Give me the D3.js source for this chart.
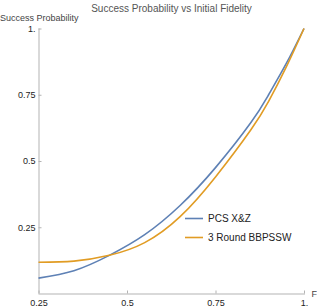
<!DOCTYPE html>
<html>
<head>
<meta charset="utf-8">
<script src="https://cdn.jsdelivr.net/npm/d3@7"></script>
<style>
  body { margin: 0; background: white; }
  text { font-family: "Liberation Sans", Arial, sans-serif; }
</style>
</head>
<body>
<div class="fidelity-plot"></div>
<script>
// values
const fidelity = [0.25, 0.35, 0.45, 0.55, 0.65, 0.75, 0.85, 0.9, 0.95, 1.0];
const pcsP = [0.058, 0.086, 0.144, 0.222, 0.332, 0.475, 0.645, 0.75, 0.868, 1.0];
const bbpP = [0.118, 0.122, 0.144, 0.192, 0.29, 0.44, 0.618, 0.725, 0.855, 1.0];

const xTicks = [0.25, 0.5, 0.75, 1.0];
const xTickLabels = ["0.25", "0.5", "0.75", "1."];
const yTicks = [0.25, 0.5, 0.75, 1.0];
const yTickLabels = ["0.25", "0.5", "0.75", "1."];

const seriesNames = ["PCS X&Z", "3 Round BBPSSW"];
const seriesColors = ["#5e81b5", "#e19c24"];

makePlot();

function makePlot() {
    const outerWidth = 317;
    const outerHeight = 308;

    const svg = d3.select('.fidelity-plot')
                .append('svg')
                .attr('width', outerWidth)
                .attr('height', outerHeight);

    const xScale = d3.scaleLinear()
                .domain([0.25, 1])
                .range([38.5, 304]);
    const yScale = d3.scaleLinear()
                .domain([0, 1])
                .range([293.5, 28.5]);

    const xAxis = d3.axisBottom(xScale)
                .tickValues(xTicks)
                .tickFormat((d, i) => xTickLabels[i])
                .tickSizeInner(-3)
                .tickSizeOuter(0)
                .tickPadding(6);
    const yAxis = d3.axisLeft(yScale)
                .tickValues(yTicks)
                .tickFormat((d, i) => yTickLabels[i])
                .tickSizeInner(-3)
                .tickSizeOuter(0)
                .tickPadding(3);

    svg.append('g')
        .attr('transform', `translate(0, ${yScale(0)})`)
        .call(xAxis)
        .call(g => g.select('.domain').attr('stroke', '#b3b3b3').attr('d', `M38.5,0.5H305`))
        .call(g => g.selectAll('.tick line').attr('stroke', '#b3b3b3'))
        .call(g => g.selectAll('.tick text').attr('fill', '#222').attr('font-size', 9));

    svg.append('g')
        .attr('transform', `translate(38.5, 0)`)
        .call(yAxis)
        .call(g => g.select('.domain').attr('stroke', '#b3b3b3').attr('d', `M0.5,${yScale(0)}V${yScale(1)}`))
        .call(g => g.selectAll('.tick line').attr('stroke', '#b3b3b3'))
        .call(g => g.selectAll('.tick text').attr('fill', '#222').attr('font-size', 9));

    svg.append('text')
        .attr('x', 311.5)
        .attr('y', 297)
        .attr('font-size', 9)
        .attr('fill', '#444')
        .text('F');

    svg.append('text')
        .attr('x', 0)
        .attr('y', 21)
        .attr('font-size', 9)
        .attr('fill', '#444')
        .text('Success Probability');

    svg.append('text')
        .attr('x', 171.5)
        .attr('y', 12)
        .attr('text-anchor', 'middle')
        .attr('font-size', 10)
        .attr('fill', '#555')
        .text('Success Probability vs Initial Fidelity');

    const line = d3.line()
                .x(d => xScale(d[0]))
                .y(d => yScale(d[1]))
                .curve(d3.curveNatural);

    const series = [d3.zip(fidelity, pcsP), d3.zip(fidelity, bbpP)];

    series.forEach((s, i) => {
        svg.append('path')
            .datum(s)
            .attr('fill', 'none')
            .attr('stroke', seriesColors[i])
            .attr('stroke-width', 1.6)
            .attr('stroke-linejoin', 'round')
            .attr('d', line);
    });

    const legend = svg.append('g')
                .attr('transform', 'translate(185, 218.5)');

    seriesNames.forEach((name, i) => {
        legend.append('line')
            .attr('x1', 0).attr('x2', 18)
            .attr('y1', i * 19).attr('y2', i * 19)
            .attr('stroke', seriesColors[i])
            .attr('stroke-width', 1.6);
        legend.append('text')
            .attr('x', 23)
            .attr('y', i * 19)
            .attr('dy', '0.35em')
            .attr('font-size', 10)
            .attr('fill', '#222')
            .text(name);
    });
}
</script>
</body>
</html>
